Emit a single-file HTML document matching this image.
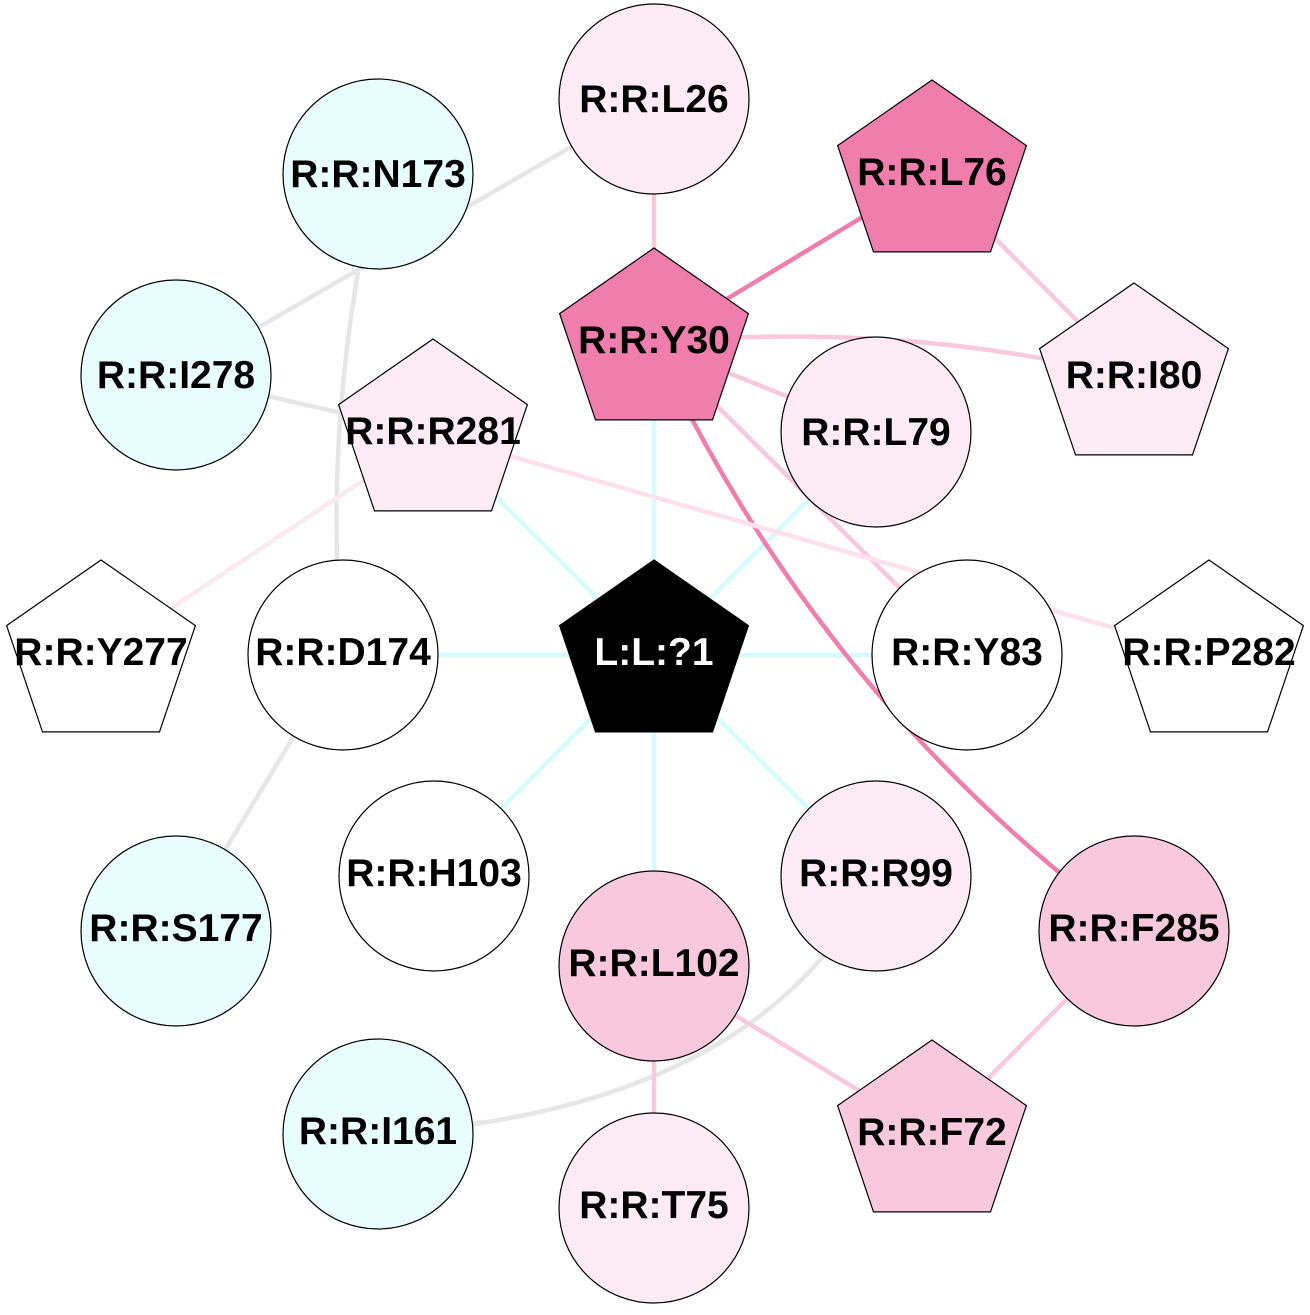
<!DOCTYPE html>
<html><head><meta charset="utf-8"><style>html,body{margin:0;padding:0;background:#fff}</style></head>
<body>
<svg width="1310" height="1310" viewBox="0 0 1310 1310" xmlns="http://www.w3.org/2000/svg">
<g fill="none" stroke-width="4.5">
<g stroke="#d4fcfc">
<line x1="654" y1="655" x2="433" y2="434"/>
<line x1="654" y1="655" x2="654" y2="343"/>
<line x1="654" y1="655" x2="876" y2="432"/>
<line x1="654" y1="655" x2="343" y2="655"/>
<line x1="654" y1="655" x2="967" y2="655"/>
<line x1="654" y1="655" x2="434" y2="876"/>
<line x1="654" y1="655" x2="654" y2="966"/>
<line x1="654" y1="655" x2="876" y2="876"/>
</g>
<g stroke="#e6e6e6">
<line x1="654" y1="99" x2="176" y2="375"/>
<path d="M378 174 Q320 420 343 655"/>
<line x1="176" y1="375" x2="433" y2="434"/>
<line x1="343" y1="655" x2="176" y2="931"/>
<path d="M876 876 Q760 1110 378 1134"/>
</g>
<line x1="654" y1="99" x2="654" y2="343" stroke="#f8c8dc"/>
<line x1="654" y1="343" x2="932" y2="175" stroke="#f07eac"/>
<line x1="932" y1="175" x2="1134" y2="378" stroke="#f8c8dc"/>
<path d="M654 343 Q900 320 1134 378" stroke="#f8c8dc"/>
<line x1="654" y1="343" x2="876" y2="432" stroke="#f8c8dc"/>
<line x1="654" y1="343" x2="967" y2="655" stroke="#f8c8dc"/>
<path d="M654 343 Q820 700 1134 931" stroke="#f07eac"/>
<line x1="433" y1="434" x2="1209" y2="655" stroke="#fce0ec"/>
<line x1="433" y1="434" x2="101" y2="655" stroke="#fce8f0"/>
<line x1="654" y1="966" x2="932" y2="1135" stroke="#f8c8dc"/>
<line x1="1134" y1="931" x2="932" y2="1135" stroke="#f8c8dc"/>
<line x1="654" y1="966" x2="654" y2="1208" stroke="#f8c8dc"/>
</g>
<g stroke="#000" stroke-width="1.2">
<circle cx="654" cy="99" r="95" fill="#fcebf3"/>
<circle cx="378" cy="174" r="95" fill="#e8fefe"/>
<circle cx="176" cy="375" r="95" fill="#e8fefe"/>
<circle cx="876" cy="432" r="95" fill="#fcebf3"/>
<circle cx="343" cy="655" r="95" fill="#fff"/>
<circle cx="967" cy="655" r="95" fill="#fff"/>
<circle cx="434" cy="876" r="95" fill="#fff"/>
<circle cx="876" cy="876" r="95" fill="#fcebf3"/>
<circle cx="176" cy="931" r="95" fill="#e8fefe"/>
<circle cx="654" cy="966" r="95" fill="#f8c8dc"/>
<circle cx="1134" cy="931" r="95" fill="#f8c8dc"/>
<circle cx="378" cy="1134" r="95" fill="#e8fefe"/>
<circle cx="654" cy="1208" r="95" fill="#fcebf3"/>
<polygon transform="translate(932,175)" points="0,-95 94.4,-29.4 58.5,76.9 -58.5,76.9 -94.4,-29.4" fill="#f07eac"/>
<polygon transform="translate(654,343)" points="0,-95 94.4,-29.4 58.5,76.9 -58.5,76.9 -94.4,-29.4" fill="#f07eac"/>
<polygon transform="translate(433,434)" points="0,-95 94.4,-29.4 58.5,76.9 -58.5,76.9 -94.4,-29.4" fill="#fcebf3"/>
<polygon transform="translate(1134,378)" points="0,-95 94.4,-29.4 58.5,76.9 -58.5,76.9 -94.4,-29.4" fill="#fcebf3"/>
<polygon transform="translate(101,655)" points="0,-95 94.4,-29.4 58.5,76.9 -58.5,76.9 -94.4,-29.4" fill="#fff"/>
<polygon transform="translate(1209,655)" points="0,-95 94.4,-29.4 58.5,76.9 -58.5,76.9 -94.4,-29.4" fill="#fff"/>
<polygon transform="translate(654,655)" points="0,-95 94.4,-29.4 58.5,76.9 -58.5,76.9 -94.4,-29.4" fill="#000"/>
<polygon transform="translate(932,1135)" points="0,-95 94.4,-29.4 58.5,76.9 -58.5,76.9 -94.4,-29.4" fill="#f8c8dc"/>
</g>
<g font-family="Liberation Sans, sans-serif" font-weight="bold" font-size="39" text-anchor="middle" fill="#000">
<text x="654" y="112">R:R:L26</text>
<text x="378" y="187">R:R:N173</text>
<text x="932" y="185">R:R:L76</text>
<text x="176" y="388">R:R:I278</text>
<text x="654" y="353">R:R:Y30</text>
<text x="433" y="444">R:R:R281</text>
<text x="876" y="445">R:R:L79</text>
<text x="1134" y="388">R:R:I80</text>
<text x="101" y="665">R:R:Y277</text>
<text x="343" y="665">R:R:D174</text>
<text x="654" y="665" fill="#fff">L:L:?1</text>
<text x="967" y="665">R:R:Y83</text>
<text x="1209" y="665">R:R:P282</text>
<text x="434" y="886">R:R:H103</text>
<text x="876" y="886">R:R:R99</text>
<text x="176" y="941">R:R:S177</text>
<text x="654" y="976">R:R:L102</text>
<text x="1134" y="941">R:R:F285</text>
<text x="378" y="1144">R:R:I161</text>
<text x="932" y="1145">R:R:F72</text>
<text x="654" y="1218">R:R:T75</text>
</g>
</svg>
</body></html>
